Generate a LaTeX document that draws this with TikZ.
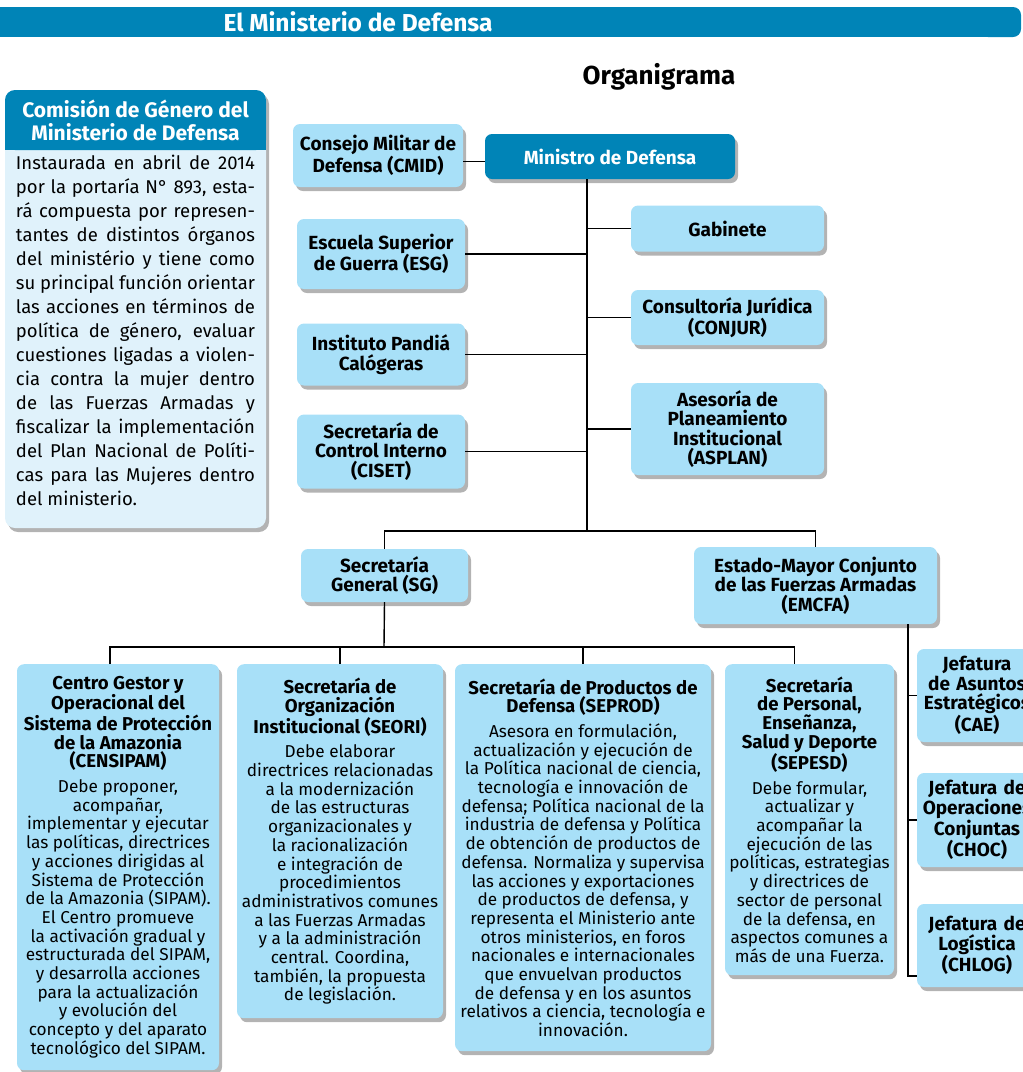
\documentclass[tikz,border=0pt]{standalone}
\usepackage{fontspec}
\setmainfont{Fira Sans}
\usetikzlibrary{positioning}
\usetikzlibrary{shadows}
\definecolor{azul}{RGB}{0,132,183}
\definecolor{celeste}{RGB}{168,224,248}
\definecolor{palido}{RGB}{224,242,251}
\newcommand{\tit}[1]{{\fontsize{18.6}{18.7}\selectfont\bfseries #1}}

\begin{document}
\begin{tikzpicture}[x=1pt,y=-1pt,
  caja/.style={fill=celeste, rounded corners=7pt, align=center, inner sep=3pt,
    font=\fontsize{19}{19.5}\selectfont\bfseries,
    drop shadow={shadow xshift=3pt,shadow yshift=-4pt,opacity=.6}},
  oscura/.style={caja, fill=azul, text=white},
  texto/.style={caja, anchor=north, font=\fontsize{17.2}{18.7}\selectfont},
  jefe/.style={caja, minimum width=120, text width=112},
  linea/.style={line width=1.4pt}]
  \useasboundingbox (0,0) rectangle (1023,1072);
  \fill[azul] (0,7) rectangle (1000,37);
  \fill[azul, rounded corners=8pt] (980,7) rectangle (1021,37);
  \node[text=white, font=\fontsize{24.5}{28}\selectfont\bfseries] (titulo) at (358,22) {El Ministerio de Defensa};
  \node[font=\fontsize{26}{30}\selectfont\bfseries] (organigrama) at (659,77) {Organigrama};

  \fill[palido, rounded corners=10pt, drop shadow={shadow xshift=3pt,shadow yshift=-4pt,opacity=.6}] (5,90) rectangle (266,528);
  \fill[azul, rounded corners=10pt] (5,90) rectangle (266,150);
  \fill[azul] (5,130) rectangle (266,150);
  \node[text=white, align=center, font=\fontsize{21}{23}\selectfont\bfseries] (comision) at (135.5,120) {Comisión de Género del\\Ministerio de Defensa};
  \node[anchor=north, text width=239, align=justify, inner sep=0pt, font=\fontsize{18.5}{24}\selectfont] (cuerpo) at (135.5,155) {Instaurada en abril de 2014\linebreak
    por la portaría N° 893, esta-\linebreak rá compuesta por represen-\linebreak
    tantes de distintos órganos\linebreak del ministério y tiene como\linebreak
    su principal función orientar\linebreak las acciones en términos de\linebreak
    política de género, evaluar\linebreak cuestiones ligadas a violen-\linebreak
    cia contra la mujer dentro\linebreak de las Fuerzas Armadas y\linebreak
    fiscalizar la implementación\linebreak del Plan Nacional de Políti-\linebreak
    cas para las Mujeres dentro\linebreak del ministerio.};

  \node[caja, minimum width=170, minimum height=63] (cmid) at (378,155.5) {Consejo Militar de\\Defensa (CMID)};
  \node[oscura, minimum width=250, minimum height=45] (minis) at (610,156.5) {Ministro de Defensa};
  \node[caja, minimum width=168, minimum height=70] (esg) at (381,254) {Escuela Superior\\de Guerra (ESG)};
  \node[caja, minimum width=168, minimum height=62] (pandia) at (381,354.5) {Instituto Pandiá\\Calógeras};
  \node[caja, minimum width=168, minimum height=74] (ciset) at (381,451.5) {Secretaría de\\Control Interno\\(CISET)};
  \node[caja, minimum width=193, minimum height=46] (gabinete) at (727.5,228.5) {Gabinete};
  \node[caja, minimum width=193, minimum height=55] (conjur) at (727.5,317.5) {Consultoría Jurídica\\(CONJUR)};
  \node[caja, minimum width=193, minimum height=92] (asplan) at (727.5,429) {Asesoría de\\Planeamiento\\Institucional\\(ASPLAN)};
  \node[caja, minimum width=167, minimum height=53] (sg) at (384.5,575.5) {Secretaría\\General (SG)};
  \node[caja, minimum width=243, minimum height=77] (emcfa) at (815.5,585.5) {Estado-Mayor Conjunto\\de las Fuerzas Armadas\\(EMCFA)};

  \node[texto, minimum width=202, minimum height=406] (censi) at (118,664) {\tit{Centro Gestor y}\\\tit{Operacional del}\\\tit{Sistema de Protección}\\\tit{de la Amazonia}\\\tit{(CENSIPAM)}\\[6pt]
    Debe proponer,\\acompañar,\\implementar y ejecutar\\las políticas, directrices\\y acciones dirigidas al\\Sistema de Protección\\de la Amazonia (SIPAM).\\El Centro promueve\\la activación gradual y\\estructurada del SIPAM,\\y desarrolla acciones\\para la actualización\\y evolución del\\concepto y del aparato\\tecnológico del SIPAM.};
  \node[texto, minimum width=206, minimum height=354] (seori) at (340,664) {\tit{Secretaría de}\\\tit{Organización}\\\tit{Institucional (SEORI)}\\[6pt]
    Debe elaborar\\directrices relacionadas\\a la modernización\\de las estructuras\\organizacionales y\\la racionalización\\e integración de\\procedimientos\\administrativos comunes\\a las Fuerzas Armadas\\y a la administración\\central. Coordina,\\también, la propuesta\\de legislación.};
  \node[texto, minimum width=256, minimum height=387] (seprod) at (583,664) {\tit{Secretaría de Productos de}\\\tit{Defensa (SEPROD)}\\[6pt]
    Asesora en formulación,\\actualización y ejecución de\\la Política nacional de ciencia,\\tecnología e innovación de\\defensa; Política nacional de la\\industria de defensa y Política\\de obtención de productos de\\defensa. Normaliza y supervisa\\las acciones y exportaciones\\de productos de defensa, y\\representa el Ministerio ante\\otros ministerios, en foros\\nacionales e internacionales\\que envuelvan productos\\de defensa y en los asuntos\\relativos a ciencia, tecnología e\\innovación.};
  \node[texto, minimum width=169, minimum height=311] (sepesd) at (809.5,664) {\tit{Secretaría}\\\tit{de Personal,}\\\tit{Enseñanza,}\\\tit{Salud y Deporte}\\\tit{(SEPESD)}\\[6pt]
    Debe formular,\\actualizar y\\acompañar la\\ejecución de las\\políticas, estrategias\\y directrices de\\sector de personal\\de la defensa, en\\aspectos comunes a\\más de una Fuerza.};

  \node[jefe, minimum height=93] (cae) at (977,695.5) {Jefatura\\de Asuntos\\Estratégicos\\(CAE)};
  \node[jefe, minimum height=94] (choc) at (977,820) {Jefatura de\\Operaciones\\Conjuntas\\(CHOC)};
  \node[jefe, minimum height=83] (chlog) at (977,945.5) {Jefatura de\\Logística\\(CHLOG)};

  \coordinate (t1) at (587,531);
  \coordinate (b2) at (384,647);
  \coordinate (e1) at (908,976);
  \draw[linea] (t1 |- minis.south) -- (t1);
  \draw[linea] ([yshift=-6pt]cmid.east) -- ([yshift=-6pt]cmid.east -| minis.west);
  \foreach \n in {esg,pandia,ciset,gabinete,conjur,asplan}
    \draw[linea] (\n.center -| t1) -- (\n);
  \draw[linea] (sg.north) |- (t1) -| (emcfa.north);
  \draw[linea] (sg.south) -- (b2);
  \draw[linea] ([xshift=-8pt]censi.north) |- (b2) -| ([xshift=-15pt]sepesd.north);
  \draw[linea] (seori.north) -- (seori.north |- b2);
  \draw[linea] (seprod.north) -- (seprod.north |- b2);
  \draw[linea] (e1 |- emcfa.south) -- (e1) -- (e1 -| chlog.west);
  \draw[linea] (cae.west) -- (cae.west -| e1);
  \draw[linea] (choc.west) -- (choc.west -| e1);
\end{tikzpicture}
\end{document}
